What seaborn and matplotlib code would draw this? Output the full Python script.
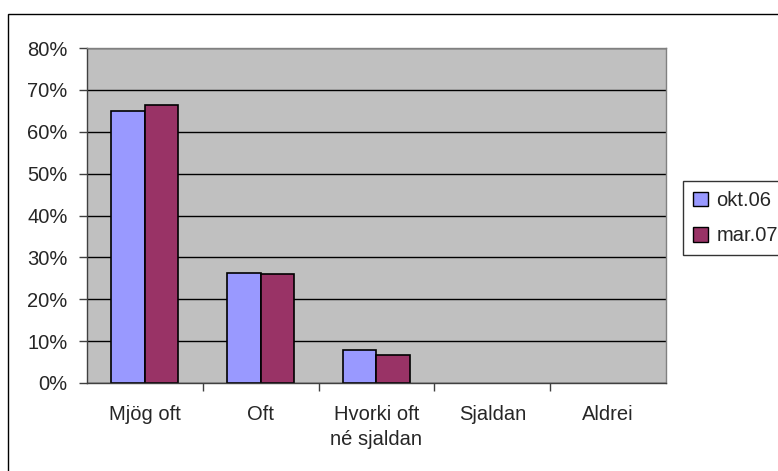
import numpy as np
import pandas as pd
import matplotlib
matplotlib.use("Agg")
import matplotlib.pyplot as plt
import seaborn as sns
from matplotlib.ticker import PercentFormatter, FixedLocator
from matplotlib.patches import Rectangle, Patch

categories = ["Mjög oft", "Oft", "Hvorki oft\nné sjaldan", "Sjaldan", "Aldrei"]
series = ["okt.06", "mar.07"]
okt06 = [0.65, 0.263, 0.080, 0.0, 0.0]
mar07 = [0.665, 0.260, 0.068, 0.0, 0.0]
colors = ["#9999FF", "#993366"]

df = pd.DataFrame({
    "category": categories * 2,
    "value": okt06 + mar07,
    "series": [series[0]] * len(categories) + [series[1]] * len(categories),
})

sns.set_style("white")
plt.rcParams['font.family'] = ['Liberation Sans', 'DejaVu Sans']

fig = plt.figure(figsize=(7.78, 4.71), dpi=100)
ax = fig.add_axes([87 / 778, 1 - 383 / 471, (666 - 87) / 778, (383 - 48) / 471])

sns.barplot(data=df, x="category", y="value", hue="series", palette=colors,
            width=0.58, edgecolor="black", linewidth=1.2, ax=ax, legend=False,
            saturation=1)

# empty bars leave no outline
for bar in ax.patches:
    if bar.get_height() == 0:
        bar.set_visible(False)

ax.set_facecolor("#C0C0C0")
ax.set_ylim(0, 0.8)
ax.set_xlim(-0.5, len(categories) - 0.5)
ax.yaxis.set_major_locator(FixedLocator(np.arange(0, 0.81, 0.1)))
ax.yaxis.set_major_formatter(PercentFormatter(1.0, decimals=0))
ax.grid(axis="y", color="black", linewidth=1)
ax.set_axisbelow(True)
ax.set_xlabel("")
ax.set_ylabel("")

for side in ["top", "right"]:
    ax.spines[side].set_visible(True)
    ax.spines[side].set_color("#808080")
    ax.spines[side].set_linewidth(1)
for side in ["left", "bottom"]:
    ax.spines[side].set_color("#404040")
    ax.spines[side].set_linewidth(1)

ax.tick_params(axis="y", which="major", left=True, length=6, width=1,
               color="#404040", labelsize=14.5, pad=8)
ax.tick_params(axis="x", which="major", bottom=False, labelsize=14.5, pad=12)
ax.set_xticks(np.arange(0.5, len(categories) - 1, 1), minor=True)
ax.tick_params(axis="x", which="minor", bottom=True, length=6, width=1,
               color="#404040")
for lbl in ax.get_xticklabels():
    lbl.set_linespacing(1.4)

handles = [Patch(facecolor=c, edgecolor="black", linewidth=1) for c in colors]
leg = fig.legend(handles, series, loc="upper left",
                 bbox_to_anchor=(683 / 778, 1 - 181 / 471),
                 frameon=True, fancybox=False, fontsize=14.5,
                 handlelength=0.75, handleheight=0.75, handletextpad=0.4,
                 labelspacing=0.8, borderpad=0.5, borderaxespad=0)
leg.get_frame().set_edgecolor("black")
leg.get_frame().set_linewidth(1)

fig.patches.append(Rectangle((8 / 778, -0.1), 1.2, 1 - 14 / 471 + 0.1,
                             transform=fig.transFigure, fill=False,
                             edgecolor="black", linewidth=1, zorder=0))

fig.savefig("out.png", dpi=100)
